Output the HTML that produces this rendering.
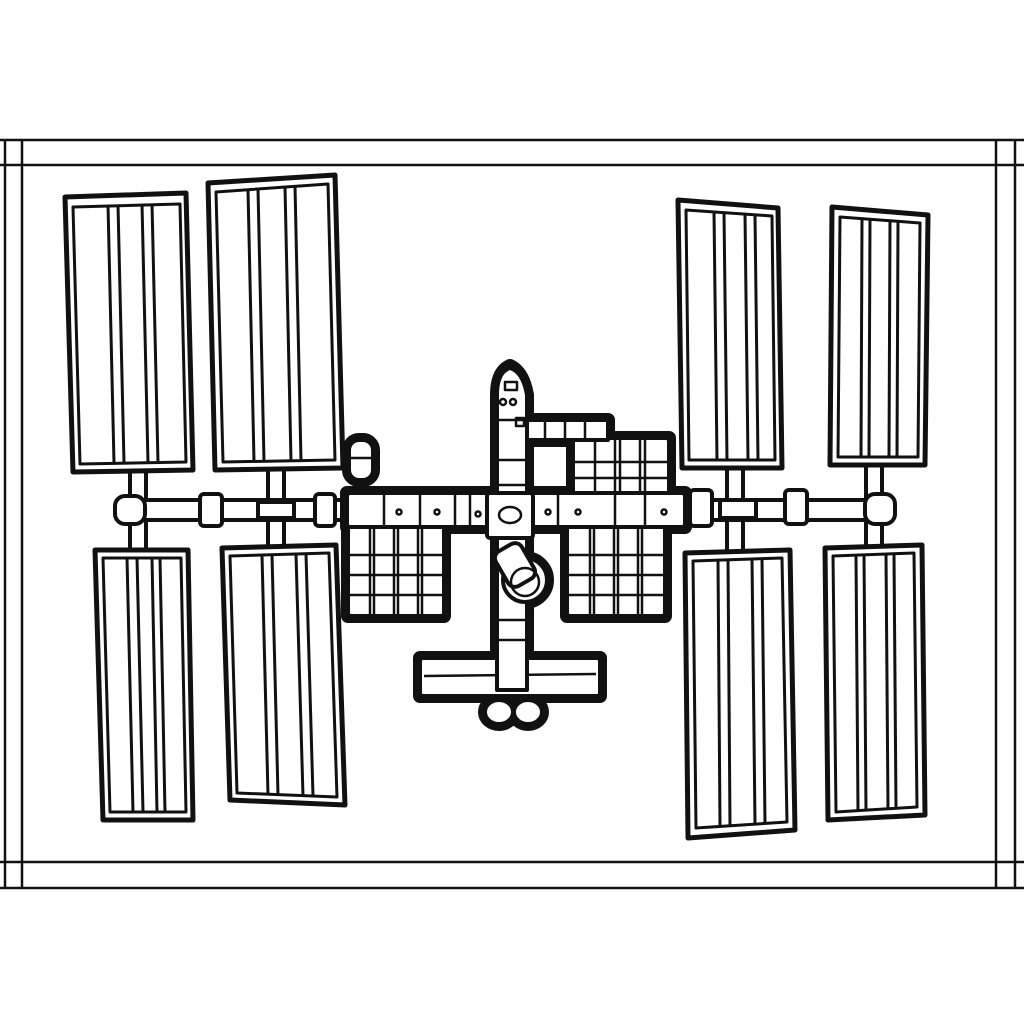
<!DOCTYPE html>
<html><head><style>html,body{margin:0;padding:0;background:#fff}svg{display:block}</style></head><body>
<svg width="1024" height="1024" viewBox="0 0 1024 1024" xmlns="http://www.w3.org/2000/svg" fill="none" stroke="#111" stroke-linejoin="round">
<rect width="1024" height="1024" fill="#fff" stroke="none"/>
<g stroke-width="2.5">
<line x1="0" y1="140" x2="1024" y2="140"/><line x1="0" y1="165" x2="1024" y2="165"/>
<line x1="0" y1="862" x2="1024" y2="862"/><line x1="0" y1="888" x2="1024" y2="888"/>
<line x1="5" y1="140" x2="5" y2="888"/><line x1="22" y1="140" x2="22" y2="888"/>
<line x1="996" y1="140" x2="996" y2="888"/><line x1="1015" y1="140" x2="1015" y2="888"/>
</g>
<g stroke-width="4" fill="#fff">
<rect x="130" y="468" width="16" height="90"/><rect x="268" y="466" width="16" height="90"/>
<rect x="727" y="466" width="16" height="92"/><rect x="866" y="462" width="16" height="90"/>
</g>
<g stroke-width="5" fill="#fff">
<polygon points="65,197 186,193 193,470 73,472"/>
<polygon points="208,183 335,175 343,468 215,470"/>
<polygon points="678,200 778,208 782,468 682,468"/>
<polygon points="832,207 928,215 925,465 830,465"/>
<polygon points="95,550 188,550 193,820 103,820"/>
<polygon points="222,548 336,545 345,805 230,800"/>
<polygon points="685,553 790,550 795,830 688,838"/>
<polygon points="825,548 922,545 925,815 828,820"/>
</g>
<g stroke-width="3">
<polygon points="73,207 180,204 186,462 80,464"/>
<line x1="108" y1="205" x2="114" y2="463"/><line x1="118" y1="205" x2="124" y2="463"/><line x1="142" y1="204" x2="148" y2="463"/><line x1="152" y1="204" x2="158" y2="463"/>
<polygon points="216,192 328,184 335,460 223,462"/>
<line x1="248" y1="190" x2="254" y2="461"/><line x1="258" y1="189" x2="264" y2="461"/><line x1="285" y1="187" x2="291" y2="461"/><line x1="295" y1="186" x2="301" y2="461"/>
<polygon points="686,210 772,216 775,460 689,460"/>
<line x1="714" y1="212" x2="717" y2="460"/><line x1="724" y1="213" x2="727" y2="460"/><line x1="745" y1="214" x2="748" y2="460"/><line x1="755" y1="215" x2="758" y2="460"/>
<polygon points="840,217 920,223 918,457 838,457"/>
<line x1="862" y1="219" x2="861" y2="457"/><line x1="870" y1="219" x2="869" y2="457"/><line x1="890" y1="221" x2="889" y2="457"/><line x1="898" y1="221" x2="897" y2="457"/>
<polygon points="103,558 181,558 186,812 110,812"/>
<line x1="127" y1="558" x2="133" y2="812"/><line x1="137" y1="558" x2="143" y2="812"/><line x1="152" y1="558" x2="157" y2="812"/><line x1="160" y1="558" x2="165" y2="812"/>
<polygon points="230,556 329,553 337,797 237,793"/>
<line x1="262" y1="555" x2="268" y2="795"/><line x1="272" y1="555" x2="278" y2="795"/><line x1="296" y1="554" x2="303" y2="796"/><line x1="306" y1="554" x2="313" y2="796"/>
<polygon points="693,561 782,558 787,822 696,828"/>
<line x1="718" y1="560" x2="720" y2="826"/><line x1="728" y1="560" x2="730" y2="826"/><line x1="752" y1="559" x2="755" y2="824"/><line x1="762" y1="559" x2="765" y2="824"/>
<polygon points="833,556 914,553 917,807 836,812"/>
<line x1="856" y1="555" x2="858" y2="811"/><line x1="864" y1="555" x2="866" y2="811"/><line x1="886" y1="554" x2="888" y2="809"/><line x1="894" y1="554" x2="896" y2="809"/>
</g>
<g stroke-width="4" fill="#fff">
<rect x="118" y="500" width="775" height="20" rx="8"/>
<rect x="115" y="496" width="30" height="28" rx="10"/>
<rect x="865" y="494" width="30" height="30" rx="10"/>
<rect x="200" y="494" width="22" height="32" rx="4"/>
<rect x="315" y="494" width="20" height="32" rx="4"/>
<rect x="690" y="490" width="22" height="36" rx="4"/>
<rect x="785" y="490" width="22" height="34" rx="4"/>
<rect x="258" y="502" width="36" height="16"/>
<rect x="720" y="500" width="36" height="18"/>
</g>
<g stroke-width="14" fill="none">
<path d="M497,690 L497,395 Q497,372 510,366 Q523,372 527,395 L527,690 Z"/>
<rect x="347" y="493" width="338" height="34"/>
<rect x="348" y="522" width="96" height="94"/>
<rect x="567" y="522" width="98" height="94"/>
<rect x="573" y="438" width="96" height="58"/>
<rect x="512" y="420" width="96" height="20"/>
<rect x="420" y="658" width="180" height="38"/>
<circle cx="525" cy="580" r="22"/>
<rect x="349" y="440" width="24" height="40" rx="10"/>
<ellipse cx="499" cy="712" rx="14" ry="12"/><ellipse cx="528" cy="712" rx="14" ry="12"/>
</g>
<g stroke-width="4" fill="#fff">
<rect x="348" y="522" width="96" height="94" rx="3"/>
<rect x="567" y="522" width="98" height="94" rx="3"/>
<rect x="573" y="438" width="96" height="58" rx="3"/>
<rect x="512" y="420" width="96" height="20"/>
</g>
<g stroke-width="2.5">
<line x1="370" y1="524" x2="370" y2="614"/><line x1="374" y1="524" x2="374" y2="614"/><line x1="394" y1="524" x2="394" y2="614"/><line x1="398" y1="524" x2="398" y2="614"/><line x1="418" y1="524" x2="418" y2="614"/><line x1="422" y1="524" x2="422" y2="614"/>
<line x1="350" y1="555" x2="442" y2="555"/><line x1="350" y1="575" x2="442" y2="575"/><line x1="350" y1="595" x2="442" y2="595"/>
<line x1="590" y1="524" x2="590" y2="614"/><line x1="594" y1="524" x2="594" y2="614"/><line x1="614" y1="524" x2="614" y2="614"/><line x1="618" y1="524" x2="618" y2="614"/><line x1="638" y1="524" x2="638" y2="614"/><line x1="642" y1="524" x2="642" y2="614"/>
<line x1="569" y1="555" x2="663" y2="555"/><line x1="569" y1="575" x2="663" y2="575"/><line x1="569" y1="595" x2="663" y2="595"/>
<line x1="595" y1="440" x2="595" y2="494"/><line x1="615" y1="440" x2="615" y2="494"/><line x1="620" y1="440" x2="620" y2="494"/><line x1="640" y1="440" x2="640" y2="494"/><line x1="645" y1="440" x2="645" y2="494"/>
<line x1="575" y1="462" x2="667" y2="462"/><line x1="575" y1="478" x2="667" y2="478"/>
<line x1="545" y1="422" x2="545" y2="438"/><line x1="565" y1="422" x2="565" y2="438"/><line x1="585" y1="422" x2="585" y2="438"/>
</g>
<g stroke-width="4" fill="#fff">
<rect x="420" y="658" width="180" height="38" rx="3"/>
</g>
<line x1="424" y1="676" x2="596" y2="674" stroke-width="2.5"/>
<g stroke-width="4" fill="#fff">
<path d="M497,690 L497,395 Q497,372 510,368 Q523,372 527,395 L527,690 Z"/>
<circle cx="525" cy="580" r="22"/>
<rect x="500" y="545" width="30" height="40" rx="8" transform="rotate(-30 515 565)"/>
<rect x="349" y="440" width="24" height="40" rx="10"/>
<rect x="347" y="493" width="338" height="34" rx="3"/>
<rect x="487" y="493" width="46" height="45" rx="3"/>
<ellipse cx="499" cy="712" rx="14" ry="12"/><ellipse cx="528" cy="712" rx="14" ry="12"/>
</g>
<g stroke-width="2.5">
<circle cx="525" cy="582" r="14"/>
<line x1="497" y1="420" x2="527" y2="420"/><line x1="497" y1="460" x2="527" y2="460"/><line x1="497" y1="485" x2="527" y2="485"/>
<line x1="497" y1="620" x2="527" y2="620"/><line x1="497" y1="640" x2="527" y2="640"/><line x1="497" y1="690" x2="527" y2="690"/>
<ellipse cx="510" cy="515" rx="11" ry="8"/>
<circle cx="503" cy="402" r="3"/><circle cx="513" cy="402" r="3"/>
<rect x="516" y="418" width="8" height="8"/><rect x="505" y="382" width="12" height="8"/>
<line x1="384" y1="495" x2="384" y2="525"/><line x1="420" y1="495" x2="420" y2="525"/><line x1="455" y1="495" x2="455" y2="525"/><line x1="470" y1="495" x2="470" y2="525"/>
<line x1="558" y1="495" x2="558" y2="525"/><line x1="615" y1="495" x2="615" y2="525"/><line x1="645" y1="495" x2="645" y2="525"/>
<circle cx="399" cy="512" r="2.5"/><circle cx="437" cy="512" r="2.5"/><circle cx="478" cy="514" r="2.5"/><circle cx="548" cy="512" r="2.5"/><circle cx="578" cy="512" r="2.5"/><circle cx="664" cy="512" r="2.5"/>
<line x1="362" y1="480" x2="362" y2="493"/>
<line x1="351" y1="458" x2="371" y2="458"/>
</g>
</svg>
</body></html>
